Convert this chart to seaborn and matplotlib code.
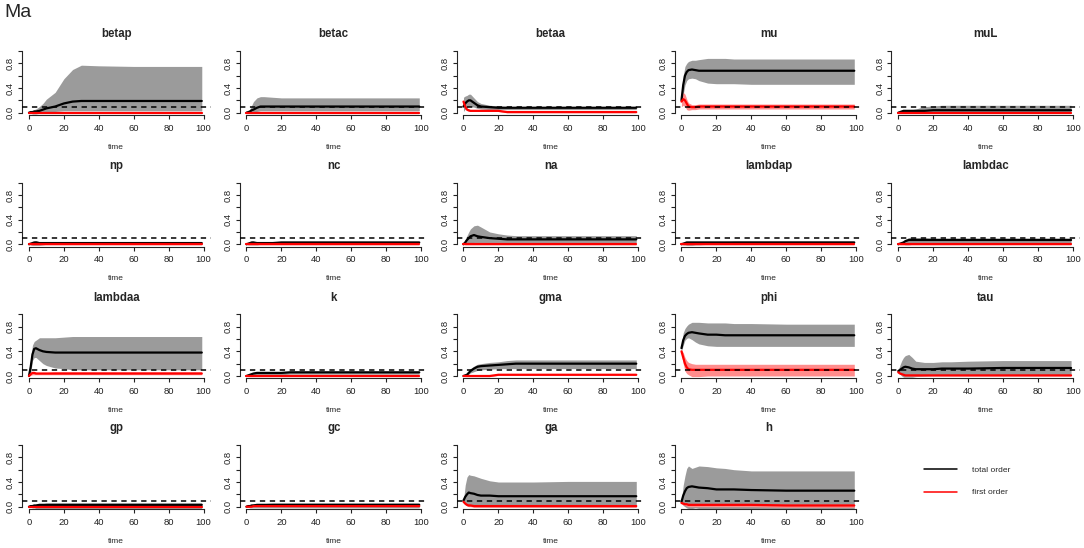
import matplotlib
matplotlib.use("Agg")
import matplotlib.pyplot as plt
from matplotlib.lines import Line2D
import pandas as pd
import seaborn as sns

# ------------------- Data -------------------

time = [0, 1, 2, 3, 4, 6, 8, 10, 15, 20, 25, 30, 40, 60, 99]

betap_tot = [0.00, 0.01, 0.01, 0.02, 0.02, 0.03, 0.05, 0.07, 0.10, 0.15, 0.18, 0.19, 0.19, 0.19, 0.19]
betap_tot_lo = [0.00, -0.01, -0.02, -0.02, -0.02, -0.01, 0.00, 0.01, 0.02, 0.03, 0.03, 0.03, 0.03, 0.03, 0.03]
betap_tot_hi = [0.00, 0.01, 0.03, 0.05, 0.06, 0.10, 0.15, 0.22, 0.33, 0.55, 0.70, 0.77, 0.76, 0.75, 0.75]
betap_fst = [0.00, 0.00, 0.00, 0.00, 0.00, 0.00, 0.00, 0.00, 0.00, 0.00, 0.00, 0.00, 0.00, 0.00, 0.00]
betap_fst_lo = [0.00, -0.01, -0.01, -0.01, -0.01, -0.01, -0.01, -0.01, -0.01, -0.01, -0.01, -0.01, -0.01, -0.01, -0.01]
betap_fst_hi = [0.00, 0.01, 0.01, 0.01, 0.01, 0.01, 0.01, 0.01, 0.01, 0.01, 0.01, 0.01, 0.01, 0.01, 0.01]

betac_tot = [0.00, 0.01, 0.02, 0.04, 0.05, 0.08, 0.10, 0.10, 0.10, 0.10, 0.10, 0.10, 0.10, 0.10, 0.10]
betac_tot_lo = [0.00, -0.01, -0.01, 0.00, 0.01, 0.02, 0.03, 0.03, 0.03, 0.03, 0.03, 0.03, 0.03, 0.03, 0.03]
betac_tot_hi = [0.00, 0.03, 0.06, 0.12, 0.18, 0.24, 0.26, 0.26, 0.25, 0.24, 0.24, 0.24, 0.24, 0.24, 0.24]
betac_fst = [0.00, 0.00, 0.00, 0.00, 0.00, 0.00, 0.00, 0.00, 0.00, 0.00, 0.00, 0.00, 0.00, 0.00, 0.00]
betac_fst_lo = [0.00, -0.01, -0.01, -0.01, -0.01, -0.01, -0.01, -0.01, -0.01, -0.01, -0.01, -0.01, -0.01, -0.01, -0.01]
betac_fst_hi = [0.00, 0.01, 0.01, 0.01, 0.01, 0.01, 0.01, 0.01, 0.01, 0.01, 0.01, 0.01, 0.01, 0.01, 0.01]

betaa_tot = [0.10, 0.15, 0.18, 0.20, 0.20, 0.16, 0.12, 0.10, 0.09, 0.08, 0.08, 0.08, 0.08, 0.08, 0.08]
betaa_tot_lo = [0.02, 0.06, 0.09, 0.10, 0.10, 0.09, 0.07, 0.06, 0.05, 0.05, 0.05, 0.05, 0.05, 0.05, 0.05]
betaa_tot_hi = [0.25, 0.27, 0.28, 0.30, 0.30, 0.24, 0.18, 0.15, 0.12, 0.11, 0.10, 0.10, 0.10, 0.10, 0.10]
betaa_fst = [0.18, 0.10, 0.05, 0.04, 0.03, 0.03, 0.03, 0.03, 0.03, 0.03, 0.01, 0.01, 0.01, 0.01, 0.01]
betaa_fst_lo = [0.16, 0.08, 0.03, 0.02, 0.02, 0.02, 0.02, 0.02, 0.02, 0.02, 0.00, 0.00, 0.00, 0.00, 0.00]
betaa_fst_hi = [0.20, 0.12, 0.07, 0.05, 0.04, 0.04, 0.04, 0.04, 0.04, 0.04, 0.02, 0.02, 0.02, 0.02, 0.02]

mu_tot = [0.20, 0.45, 0.60, 0.66, 0.69, 0.70, 0.69, 0.68, 0.68, 0.68, 0.68, 0.68, 0.68, 0.68, 0.68]
mu_tot_lo = [0.10, 0.30, 0.45, 0.52, 0.55, 0.56, 0.55, 0.52, 0.48, 0.47, 0.47, 0.47, 0.46, 0.46, 0.46]
mu_tot_hi = [0.30, 0.60, 0.75, 0.80, 0.83, 0.85, 0.85, 0.86, 0.88, 0.88, 0.88, 0.87, 0.87, 0.87, 0.87]
mu_fst = [0.18, 0.22, 0.20, 0.15, 0.10, 0.09, 0.09, 0.10, 0.10, 0.10, 0.10, 0.10, 0.10, 0.10, 0.10]
mu_fst_lo = [0.10, 0.12, 0.10, 0.05, 0.04, 0.05, 0.05, 0.06, 0.06, 0.06, 0.06, 0.06, 0.06, 0.06, 0.06]
mu_fst_hi = [0.28, 0.33, 0.30, 0.22, 0.16, 0.13, 0.13, 0.14, 0.14, 0.14, 0.14, 0.14, 0.14, 0.14, 0.14]

muL_tot = [0.00, 0.01, 0.02, 0.03, 0.03, 0.03, 0.03, 0.03, 0.03, 0.04, 0.04, 0.04, 0.04, 0.04, 0.04]
muL_tot_lo = [0.00, -0.01, -0.01, -0.01, -0.01, -0.01, -0.01, -0.01, 0.00, 0.00, 0.00, 0.00, 0.00, 0.00, 0.00]
muL_tot_hi = [0.00, 0.01, 0.02, 0.03, 0.03, 0.04, 0.05, 0.06, 0.10, 0.11, 0.12, 0.12, 0.12, 0.12, 0.12]
muL_fst = [0.00, 0.00, 0.00, 0.00, 0.00, 0.00, 0.00, 0.00, 0.00, 0.00, 0.00, 0.00, 0.00, 0.00, 0.00]
muL_fst_lo = [0.00, -0.01, -0.01, -0.01, -0.01, -0.01, -0.01, -0.01, -0.01, -0.01, -0.01, -0.01, -0.01, -0.01, -0.01]
muL_fst_hi = [0.00, 0.01, 0.01, 0.01, 0.01, 0.01, 0.01, 0.01, 0.01, 0.01, 0.01, 0.01, 0.01, 0.01, 0.01]

np_tot = [0.00, 0.01, 0.02, 0.03, 0.03, 0.02, 0.02, 0.02, 0.02, 0.02, 0.02, 0.02, 0.02, 0.02, 0.02]
np_tot_lo = [0.00, -0.01, -0.02, -0.02, -0.02, -0.02, -0.01, 0.00, 0.01, 0.01, 0.01, 0.01, 0.01, 0.01, 0.01]
np_tot_hi = [0.00, 0.02, 0.03, 0.05, 0.06, 0.04, 0.03, 0.03, 0.03, 0.03, 0.03, 0.03, 0.03, 0.03, 0.03]
np_fst = [0.00, 0.00, 0.00, 0.00, 0.00, 0.00, 0.00, 0.00, 0.00, 0.00, 0.00, 0.00, 0.00, 0.00, 0.00]
np_fst_lo = [0.00, -0.01, -0.01, -0.01, -0.01, -0.01, -0.01, -0.01, -0.01, -0.01, -0.01, -0.01, -0.01, -0.01, -0.01]
np_fst_hi = [0.00, 0.01, 0.01, 0.01, 0.01, 0.01, 0.01, 0.01, 0.01, 0.01, 0.01, 0.01, 0.01, 0.01, 0.01]

nc_tot = [0.00, 0.01, 0.02, 0.03, 0.03, 0.02, 0.02, 0.02, 0.02, 0.03, 0.03, 0.03, 0.03, 0.03, 0.03]
nc_tot_lo = [0.00, -0.01, -0.01, -0.01, -0.01, -0.01, 0.00, 0.00, 0.01, 0.01, 0.01, 0.01, 0.01, 0.01, 0.01]
nc_tot_hi = [0.00, 0.02, 0.03, 0.05, 0.05, 0.03, 0.03, 0.03, 0.03, 0.04, 0.04, 0.04, 0.04, 0.04, 0.04]
nc_fst = [0.00, 0.00, 0.00, 0.00, 0.00, 0.00, 0.00, 0.00, 0.00, 0.00, 0.00, 0.00, 0.00, 0.00, 0.00]
nc_fst_lo = [0.00, -0.01, -0.01, -0.01, -0.01, -0.01, -0.01, -0.01, -0.01, -0.01, -0.01, -0.01, -0.01, -0.01, -0.01]
nc_fst_hi = [0.00, 0.01, 0.01, 0.01, 0.01, 0.01, 0.01, 0.01, 0.01, 0.01, 0.01, 0.01, 0.01, 0.01, 0.01]

na_tot = [0.00, 0.03, 0.07, 0.10, 0.13, 0.15, 0.13, 0.12, 0.10, 0.09, 0.08, 0.08, 0.08, 0.08, 0.08]
na_tot_lo = [0.00, 0.00, 0.01, 0.02, 0.02, 0.03, 0.03, 0.03, 0.03, 0.03, 0.03, 0.03, 0.03, 0.03, 0.03]
na_tot_hi = [0.00, 0.08, 0.14, 0.20, 0.25, 0.30, 0.31, 0.28, 0.20, 0.17, 0.15, 0.14, 0.14, 0.14, 0.14]
na_fst = [0.00, 0.00, 0.00, 0.00, 0.00, 0.00, 0.00, 0.00, 0.00, 0.00, 0.00, 0.00, 0.00, 0.00, 0.00]
na_fst_lo = [0.00, -0.01, -0.01, -0.01, -0.01, -0.01, -0.01, -0.01, -0.01, -0.01, -0.01, -0.01, -0.01, -0.01, -0.01]
na_fst_hi = [0.00, 0.01, 0.01, 0.01, 0.01, 0.01, 0.01, 0.01, 0.01, 0.01, 0.01, 0.01, 0.01, 0.01, 0.01]

lambdap_tot = [0.00, 0.01, 0.02, 0.03, 0.03, 0.03, 0.03, 0.03, 0.03, 0.03, 0.03, 0.03, 0.03, 0.03, 0.03]
lambdap_tot_lo = [0.00, -0.01, -0.01, -0.02, -0.02, -0.02, -0.01, -0.01, 0.00, 0.01, 0.01, 0.01, 0.01, 0.01, 0.01]
lambdap_tot_hi = [0.00, 0.01, 0.03, 0.04, 0.04, 0.04, 0.04, 0.04, 0.04, 0.04, 0.04, 0.05, 0.05, 0.05, 0.05]
lambdap_fst = [0.00, 0.00, 0.00, 0.00, 0.00, 0.00, 0.00, 0.00, 0.00, 0.00, 0.00, 0.00, 0.00, 0.00, 0.00]
lambdap_fst_lo = [0.00, -0.01, -0.01, -0.01, -0.01, -0.01, -0.01, -0.01, -0.01, -0.01, -0.01, -0.01, -0.01, -0.01, -0.01]
lambdap_fst_hi = [0.00, 0.01, 0.01, 0.01, 0.01, 0.01, 0.01, 0.01, 0.01, 0.01, 0.01, 0.01, 0.01, 0.01, 0.01]

lambdac_tot = [0.00, 0.01, 0.02, 0.03, 0.05, 0.07, 0.07, 0.07, 0.07, 0.07, 0.07, 0.07, 0.07, 0.07, 0.07]
lambdac_tot_lo = [0.00, 0.00, 0.00, 0.00, -0.01, -0.01, 0.00, 0.01, 0.02, 0.02, 0.02, 0.02, 0.02, 0.02, 0.02]
lambdac_tot_hi = [0.00, 0.01, 0.03, 0.05, 0.08, 0.11, 0.11, 0.11, 0.11, 0.10, 0.10, 0.10, 0.10, 0.10, 0.10]
lambdac_fst = [0.00, 0.00, 0.00, 0.00, 0.00, 0.00, 0.00, 0.00, 0.00, 0.00, 0.00, 0.00, 0.00, 0.00, 0.00]
lambdac_fst_lo = [0.00, -0.01, -0.01, -0.01, -0.01, -0.01, -0.01, -0.01, -0.01, -0.01, -0.01, -0.01, -0.01, -0.01, -0.01]
lambdac_fst_hi = [0.00, 0.01, 0.01, 0.01, 0.01, 0.01, 0.01, 0.01, 0.01, 0.01, 0.01, 0.01, 0.01, 0.01, 0.01]

lambdaa_tot = [0.00, 0.15, 0.35, 0.44, 0.45, 0.42, 0.40, 0.39, 0.38, 0.38, 0.38, 0.38, 0.38, 0.38, 0.38]
lambdaa_tot_lo = [0.00, 0.05, 0.25, 0.30, 0.30, 0.25, 0.20, 0.17, 0.13, 0.12, 0.10, 0.10, 0.10, 0.10, 0.10]
lambdaa_tot_hi = [0.00, 0.30, 0.50, 0.56, 0.58, 0.62, 0.62, 0.62, 0.62, 0.63, 0.64, 0.64, 0.64, 0.64, 0.64]
lambdaa_fst = [0.00, 0.03, 0.05, 0.05, 0.04, 0.04, 0.04, 0.04, 0.04, 0.04, 0.04, 0.04, 0.04, 0.04, 0.04]
lambdaa_fst_lo = [0.00, 0.01, 0.02, 0.02, 0.02, 0.02, 0.02, 0.02, 0.02, 0.02, 0.02, 0.02, 0.02, 0.02, 0.02]
lambdaa_fst_hi = [0.00, 0.05, 0.07, 0.07, 0.06, 0.06, 0.06, 0.06, 0.07, 0.07, 0.07, 0.07, 0.07, 0.07, 0.07]

k_tot = [0.00, 0.01, 0.02, 0.03, 0.04, 0.05, 0.05, 0.05, 0.05, 0.05, 0.06, 0.06, 0.06, 0.06, 0.06]
k_tot_lo = [0.00, 0.00, 0.00, 0.01, 0.01, 0.02, 0.02, 0.02, 0.02, 0.02, 0.03, 0.03, 0.03, 0.03, 0.03]
k_tot_hi = [0.00, 0.01, 0.03, 0.04, 0.05, 0.06, 0.06, 0.06, 0.06, 0.06, 0.07, 0.07, 0.07, 0.07, 0.07]
k_fst = [0.00, 0.00, 0.00, 0.00, 0.00, 0.00, 0.00, 0.00, 0.00, 0.00, 0.00, 0.00, 0.00, 0.00, 0.00]
k_fst_lo = [0.00, -0.01, -0.01, -0.01, -0.01, -0.01, -0.01, -0.01, -0.01, -0.01, -0.01, -0.01, -0.01, -0.01, -0.01]
k_fst_hi = [0.00, 0.01, 0.01, 0.01, 0.01, 0.01, 0.01, 0.01, 0.01, 0.01, 0.01, 0.01, 0.01, 0.01, 0.01]

gma_tot = [0.00, 0.01, 0.02, 0.05, 0.08, 0.12, 0.15, 0.16, 0.17, 0.18, 0.19, 0.20, 0.20, 0.20, 0.20]
gma_tot_lo = [0.00, 0.00, 0.01, 0.03, 0.05, 0.07, 0.09, 0.10, 0.11, 0.12, 0.12, 0.12, 0.12, 0.12, 0.12]
gma_tot_hi = [0.00, 0.01, 0.03, 0.07, 0.12, 0.16, 0.19, 0.20, 0.22, 0.23, 0.25, 0.26, 0.26, 0.26, 0.26]
gma_fst = [0.00, 0.00, 0.00, 0.00, 0.00, 0.00, 0.00, 0.00, 0.00, 0.02, 0.02, 0.02, 0.02, 0.02, 0.02]
gma_fst_lo = [0.00, -0.01, -0.01, -0.01, -0.01, -0.01, -0.01, -0.01, -0.01, 0.01, 0.01, 0.01, 0.01, 0.01, 0.01]
gma_fst_hi = [0.00, 0.01, 0.01, 0.01, 0.01, 0.01, 0.01, 0.01, 0.01, 0.03, 0.03, 0.03, 0.03, 0.03, 0.03]

phi_tot = [0.45, 0.58, 0.65, 0.68, 0.70, 0.71, 0.70, 0.69, 0.67, 0.67, 0.66, 0.66, 0.66, 0.66, 0.66]
phi_tot_lo = [0.40, 0.50, 0.58, 0.61, 0.62, 0.59, 0.55, 0.52, 0.49, 0.48, 0.48, 0.48, 0.48, 0.48, 0.48]
phi_tot_hi = [0.50, 0.70, 0.77, 0.81, 0.84, 0.87, 0.87, 0.87, 0.86, 0.86, 0.86, 0.85, 0.85, 0.84, 0.84]
phi_fst = [0.40, 0.30, 0.20, 0.14, 0.11, 0.10, 0.10, 0.10, 0.10, 0.10, 0.10, 0.10, 0.10, 0.10, 0.10]
phi_fst_lo = [0.35, 0.20, 0.08, 0.04, 0.02, -0.01, -0.01, -0.01, 0.00, 0.00, 0.00, 0.00, 0.00, 0.00, 0.00]
phi_fst_hi = [0.42, 0.38, 0.30, 0.25, 0.22, 0.20, 0.19, 0.19, 0.19, 0.19, 0.19, 0.19, 0.19, 0.19, 0.19]

tau_tot = [0.08, 0.10, 0.12, 0.14, 0.15, 0.14, 0.12, 0.11, 0.11, 0.11, 0.12, 0.12, 0.12, 0.13, 0.13]
tau_tot_lo = [0.06, 0.03, 0.00, -0.02, -0.02, -0.02, -0.02, -0.01, 0.00, 0.01, 0.01, 0.01, 0.01, 0.01, 0.01]
tau_tot_hi = [0.10, 0.18, 0.25, 0.30, 0.33, 0.35, 0.30, 0.24, 0.22, 0.22, 0.23, 0.23, 0.24, 0.25, 0.25]
tau_fst = [0.06, 0.04, 0.03, 0.02, 0.01, 0.01, 0.01, 0.01, 0.01, 0.01, 0.01, 0.01, 0.01, 0.01, 0.01]
tau_fst_lo = [0.05, 0.03, 0.02, 0.01, 0.00, 0.00, 0.00, 0.00, 0.00, 0.00, 0.00, 0.00, 0.00, 0.00, 0.00]
tau_fst_hi = [0.07, 0.05, 0.04, 0.03, 0.02, 0.02, 0.02, 0.02, 0.02, 0.02, 0.02, 0.02, 0.02, 0.02, 0.02]

gp_tot = [0.00, 0.01, 0.01, 0.02, 0.02, 0.03, 0.03, 0.03, 0.03, 0.03, 0.03, 0.03, 0.03, 0.03, 0.03]
gp_tot_lo = [0.00, -0.01, -0.02, -0.02, -0.03, -0.03, -0.03, -0.03, -0.03, -0.03, -0.03, -0.03, -0.03, -0.03, -0.03]
gp_tot_hi = [0.00, 0.01, 0.02, 0.03, 0.04, 0.05, 0.05, 0.06, 0.06, 0.06, 0.06, 0.06, 0.06, 0.06, 0.06]
gp_fst = [0.00, 0.00, 0.00, 0.00, 0.00, 0.00, 0.00, 0.00, 0.00, 0.00, 0.00, 0.00, 0.00, 0.00, 0.00]
gp_fst_lo = [0.00, -0.01, -0.01, -0.01, -0.01, -0.01, -0.01, -0.01, -0.01, -0.01, -0.01, -0.01, -0.01, -0.01, -0.01]
gp_fst_hi = [0.00, 0.01, 0.01, 0.01, 0.01, 0.01, 0.01, 0.01, 0.01, 0.01, 0.01, 0.01, 0.01, 0.01, 0.01]

gc_tot = [0.00, 0.01, 0.01, 0.02, 0.02, 0.03, 0.03, 0.03, 0.03, 0.03, 0.03, 0.03, 0.03, 0.03, 0.03]
gc_tot_lo = [0.00, -0.01, -0.02, -0.02, -0.02, -0.02, -0.02, -0.02, -0.02, -0.02, -0.02, -0.02, -0.02, -0.02, -0.02]
gc_tot_hi = [0.00, 0.01, 0.03, 0.04, 0.05, 0.05, 0.05, 0.05, 0.06, 0.06, 0.06, 0.06, 0.06, 0.06, 0.06]
gc_fst = [0.00, 0.00, 0.00, 0.00, 0.01, 0.01, 0.01, 0.01, 0.01, 0.01, 0.01, 0.01, 0.01, 0.01, 0.01]
gc_fst_lo = [0.00, -0.01, -0.01, -0.01, 0.00, 0.00, 0.00, 0.00, 0.00, 0.00, 0.00, 0.00, 0.00, 0.00, 0.00]
gc_fst_hi = [0.00, 0.01, 0.01, 0.01, 0.02, 0.02, 0.02, 0.02, 0.02, 0.02, 0.02, 0.02, 0.02, 0.02, 0.02]

ga_tot = [0.10, 0.16, 0.20, 0.23, 0.22, 0.21, 0.19, 0.18, 0.18, 0.17, 0.17, 0.17, 0.17, 0.17, 0.17]
ga_tot_lo = [0.10, 0.05, 0.02, 0.01, 0.01, 0.00, 0.00, 0.00, 0.00, 0.00, 0.00, 0.00, 0.00, 0.00, 0.00]
ga_tot_hi = [0.10, 0.35, 0.48, 0.52, 0.51, 0.50, 0.48, 0.46, 0.42, 0.40, 0.40, 0.40, 0.40, 0.41, 0.41]
ga_fst = [0.08, 0.05, 0.03, 0.02, 0.02, 0.01, 0.01, 0.01, 0.01, 0.01, 0.01, 0.01, 0.01, 0.01, 0.01]
ga_fst_lo = [0.07, 0.03, 0.01, 0.00, 0.00, -0.01, -0.01, -0.01, -0.01, -0.01, -0.01, -0.01, -0.01, -0.01, -0.01]
ga_fst_hi = [0.09, 0.07, 0.05, 0.04, 0.03, 0.02, 0.02, 0.02, 0.02, 0.02, 0.02, 0.02, 0.02, 0.02, 0.02]

h_tot = [0.08, 0.18, 0.25, 0.30, 0.32, 0.33, 0.32, 0.31, 0.30, 0.28, 0.28, 0.28, 0.27, 0.26, 0.26]
h_tot_lo = [0.06, 0.02, 0.00, -0.02, -0.03, -0.03, -0.02, -0.03, -0.03, -0.03, -0.03, -0.03, -0.03, -0.03, -0.03]
h_tot_hi = [0.10, 0.35, 0.50, 0.62, 0.66, 0.62, 0.64, 0.66, 0.65, 0.63, 0.62, 0.60, 0.58, 0.58, 0.58]
h_fst = [0.06, 0.05, 0.04, 0.04, 0.03, 0.03, 0.03, 0.03, 0.03, 0.03, 0.03, 0.03, 0.03, 0.02, 0.02]
h_fst_lo = [0.05, 0.03, 0.02, 0.01, 0.00, 0.00, 0.00, 0.00, 0.00, 0.00, 0.00, 0.00, 0.00, -0.01, -0.01]
h_fst_hi = [0.08, 0.07, 0.06, 0.06, 0.05, 0.05, 0.05, 0.05, 0.05, 0.05, 0.05, 0.05, 0.05, 0.04, 0.04]

panels = [
    ("betap", betap_tot, betap_tot_lo, betap_tot_hi, betap_fst, betap_fst_lo, betap_fst_hi),
    ("betac", betac_tot, betac_tot_lo, betac_tot_hi, betac_fst, betac_fst_lo, betac_fst_hi),
    ("betaa", betaa_tot, betaa_tot_lo, betaa_tot_hi, betaa_fst, betaa_fst_lo, betaa_fst_hi),
    ("mu", mu_tot, mu_tot_lo, mu_tot_hi, mu_fst, mu_fst_lo, mu_fst_hi),
    ("muL", muL_tot, muL_tot_lo, muL_tot_hi, muL_fst, muL_fst_lo, muL_fst_hi),
    ("np", np_tot, np_tot_lo, np_tot_hi, np_fst, np_fst_lo, np_fst_hi),
    ("nc", nc_tot, nc_tot_lo, nc_tot_hi, nc_fst, nc_fst_lo, nc_fst_hi),
    ("na", na_tot, na_tot_lo, na_tot_hi, na_fst, na_fst_lo, na_fst_hi),
    ("lambdap", lambdap_tot, lambdap_tot_lo, lambdap_tot_hi, lambdap_fst, lambdap_fst_lo, lambdap_fst_hi),
    ("lambdac", lambdac_tot, lambdac_tot_lo, lambdac_tot_hi, lambdac_fst, lambdac_fst_lo, lambdac_fst_hi),
    ("lambdaa", lambdaa_tot, lambdaa_tot_lo, lambdaa_tot_hi, lambdaa_fst, lambdaa_fst_lo, lambdaa_fst_hi),
    ("k", k_tot, k_tot_lo, k_tot_hi, k_fst, k_fst_lo, k_fst_hi),
    ("gma", gma_tot, gma_tot_lo, gma_tot_hi, gma_fst, gma_fst_lo, gma_fst_hi),
    ("phi", phi_tot, phi_tot_lo, phi_tot_hi, phi_fst, phi_fst_lo, phi_fst_hi),
    ("tau", tau_tot, tau_tot_lo, tau_tot_hi, tau_fst, tau_fst_lo, tau_fst_hi),
    ("gp", gp_tot, gp_tot_lo, gp_tot_hi, gp_fst, gp_fst_lo, gp_fst_hi),
    ("gc", gc_tot, gc_tot_lo, gc_tot_hi, gc_fst, gc_fst_lo, gc_fst_hi),
    ("ga", ga_tot, ga_tot_lo, ga_tot_hi, ga_fst, ga_fst_lo, ga_fst_hi),
    ("h", h_tot, h_tot_lo, h_tot_hi, h_fst, h_fst_lo, h_fst_hi),
]

threshold = 0.1

# ------------------- Layout (pixel boxes of the R plot regions) -------------------

W, H = 1084, 548
col_left = [22, 239.5, 456.5, 674.5, 891.3]
row_zero = [112.7, 244.3, 376.0, 506.7]
ax_w = 188.5
px_per_unit = 61.7
ax_h = 1.08 * px_per_unit

sns.set_style("ticks")
plt.rcParams['font.family'] = ['Liberation Sans', 'DejaVu Sans']

fig = plt.figure(figsize=(W / 100, H / 100), dpi=100)
fig.text(4 / W, 1 - 4 / H, "Ma", fontsize=14, ha="left", va="top")

grey_band = "#9b9b9b"
red_band = "#ff8c8c"

for i, (name, tot, tot_lo, tot_hi, fst, fst_lo, fst_hi) in enumerate(panels):
    r, c = divmod(i, 5)
    bottom_px = row_zero[r] + 0.04 * px_per_unit
    ax = fig.add_axes([col_left[c] / W, 1 - bottom_px / H, ax_w / W, ax_h / H])

    ax.fill_between(time, tot_lo, tot_hi, color=grey_band, lw=0, zorder=1)
    ax.fill_between(time, fst_lo, fst_hi, color=red_band, lw=0, zorder=2)

    df = pd.DataFrame({
        "time": time * 2,
        "value": tot + fst,
        "order": ["total order"] * len(time) + ["first order"] * len(time),
    })
    sns.lineplot(data=df, x="time", y="value", hue="order",
                 palette={"total order": "black", "first order": "red"},
                 lw=1.6, legend=False, ax=ax, zorder=3)
    ax.axhline(threshold, color="black", lw=1.1, ls=(0, (3.5, 3)), zorder=4)

    ax.set_xlim(-4, 104)
    ax.set_ylim(-0.04, 1.04)
    ax.set_xticks([0, 20, 40, 60, 80, 100])
    ax.set_yticks([0.0, 0.2, 0.4, 0.6, 0.8, 1.0])
    ax.set_yticklabels(["0.0", "", "0.4", "", "0.8", ""], rotation=90, va="center")
    ax.tick_params(labelsize=6.8, length=3, width=0.8, pad=2, colors="#222222")
    ax.tick_params(axis="x", pad=3)
    for s in ["top", "right"]:
        ax.spines[s].set_visible(False)
    ax.spines["left"].set_bounds(0, 1)
    ax.spines["bottom"].set_bounds(0, 100)
    ax.spines["left"].set_linewidth(0.8)
    ax.spines["bottom"].set_linewidth(0.8)
    ax.set_title(name, fontsize=8.3, fontweight="bold", pad=8)
    ax.set_xlabel("time", fontsize=6, labelpad=8)
    ax.set_ylabel("")
    ax.set_facecolor("white")

# legend in the empty last cell
handles = [Line2D([], [], color="black", lw=1.1), Line2D([], [], color="red", lw=1.1)]
fig.legend(handles, ["total order", "first order"], loc="upper left",
           bbox_to_anchor=(920 / W, 1 - 462 / H), frameon=False, fontsize=6,
           handlelength=3.9, handletextpad=1.9, labelspacing=1.75, borderpad=0)

fig.savefig("out.png", dpi=100, facecolor="white")
